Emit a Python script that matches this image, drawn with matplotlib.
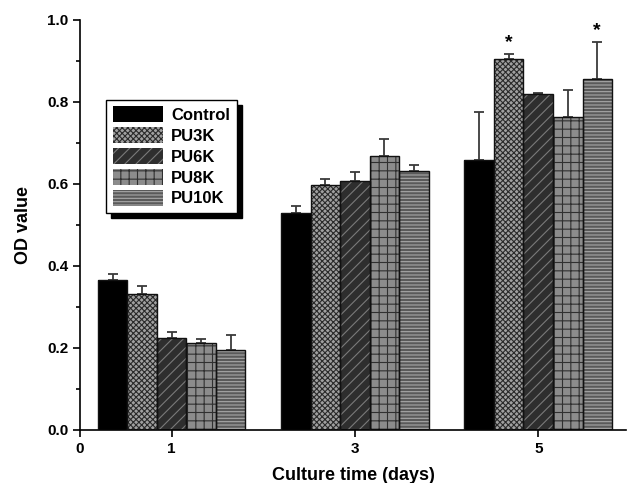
import numpy as np
import matplotlib.pyplot as plt
from matplotlib.patches import Patch
from matplotlib.ticker import MultipleLocator

plt.rcParams['font.family'] = ['Liberation Sans', 'DejaVu Sans']
plt.rcParams['font.weight'] = 'bold'
plt.rcParams['hatch.linewidth'] = 0.8

# OD readings per group at each culture day
days = [1, 3, 5]
groups = ['Control', 'PU3K', 'PU6K', 'PU8K', 'PU10K']
od_mean = {
    'Control': [0.366, 0.530, 0.658],
    'PU3K': [0.332, 0.598, 0.904],
    'PU6K': [0.224, 0.606, 0.819],
    'PU8K': [0.212, 0.669, 0.762],
    'PU10K': [0.195, 0.632, 0.856],
}
od_err = {
    'Control': [0.014, 0.015, 0.117],
    'PU3K': [0.019, 0.014, 0.013],
    'PU6K': [0.015, 0.022, 0.003],
    'PU8K': [0.010, 0.041, 0.066],
    'PU10K': [0.037, 0.014, 0.090],
}
significant = [('PU3K', 5), ('PU10K', 5)]

# fill colour, hatch pattern, hatch colour
styles = {
    'Control': ('#000000', '', '#000000'),
    'PU3K': ('#a0a0a0', 'xxxxxx', '#2a2a2a'),
    'PU6K': ('#2e2e2e', '///', '#7a7a7a'),
    'PU8K': ('#8c8c8c', '++', '#303030'),
    'PU10K': ('#5a5a5a', '-----', '#a8a8a8'),
}

fig = plt.figure(figsize=(6.3, 4.83), dpi=100)
ax = fig.add_axes([0.127, 0.110, 0.867, 0.849])

width = 0.322
x = np.array(days, dtype=float)
for i, name in enumerate(groups):
    pos = x + (i - 2) * width
    face, hatch, hcol = styles[name]
    ax.bar(pos, od_mean[name], width, color=face, hatch=hatch,
           edgecolor=hcol, linewidth=0, zorder=2)
    ax.bar(pos, od_mean[name], width, fill=False, edgecolor='#111111',
           linewidth=1.0, zorder=3)
    ax.errorbar(pos, od_mean[name],
                yerr=[np.zeros(len(days)), od_err[name]],
                fmt='none', ecolor='#3a3a3a', elinewidth=1.3, capsize=3.5,
                capthick=1.3, zorder=1)

for name, day in significant:
    i = groups.index(name)
    j = days.index(day)
    top = od_mean[name][j] + od_err[name][j]
    ax.text(day + (i - 2) * width, top + 0.006, '*', ha='center',
            va='bottom', fontsize=14, fontweight='bold')

ax.set_xlim(0, 5.96)
ax.set_ylim(0, 1.0)
ax.set_xticks([0, 1, 3, 5])
ax.yaxis.set_major_locator(MultipleLocator(0.2))
ax.yaxis.set_minor_locator(MultipleLocator(0.1))
ax.yaxis.set_major_formatter(plt.FormatStrFormatter('%.1f'))
ax.spines['top'].set_visible(False)
ax.spines['right'].set_visible(False)
ax.spines['left'].set_linewidth(1.2)
ax.spines['bottom'].set_linewidth(1.2)
ax.tick_params(axis='both', which='major', length=5, width=1.2,
               labelsize=11)
ax.tick_params(axis='y', which='minor', length=3, width=1.2)
for lab in ax.get_xticklabels() + ax.get_yticklabels():
    lab.set_fontweight('bold')

ax.set_xlabel('Culture time (days)', fontsize=13, fontweight='bold',
              labelpad=8)
ax.set_ylabel('OD value', fontsize=13, fontweight='bold', labelpad=11)

handles = []
for name in groups:
    face, hatch, hcol = styles[name]
    handles.append(Patch(facecolor=face, hatch=hatch, edgecolor=hcol,
                         linewidth=0, label=name))
leg = ax.legend(handles=handles, loc='upper left',
                bbox_to_anchor=(0.048, 0.805), fontsize=12,
                handlelength=3.0, handleheight=1.1, labelspacing=0.25,
                handletextpad=0.5, borderpad=0.4, borderaxespad=0,
                fancybox=False, edgecolor='black',
                shadow={'color': 'black', 'alpha': 1, 'ox': 3.5,
                        'oy': -3.5})
leg.get_frame().set_linewidth(1.0)
for t in leg.get_texts():
    t.set_fontweight('bold')

plt.savefig('out.png', dpi=100)
